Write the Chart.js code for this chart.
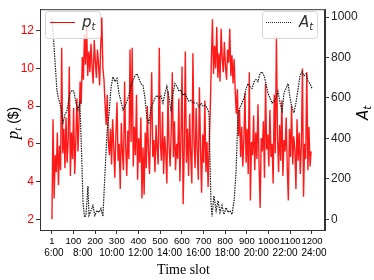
<!DOCTYPE html>
<html>
<head>
<meta charset="utf-8">
<script src="https://cdn.jsdelivr.net/npm/chart.js@4"></script>
<style>
  body { margin: 0; background: #fff; }
  canvas { display: block; }
</style>
</head>
<body>
<canvas id="chart" width="374" height="280"></canvas>
<script>
// price p_t, one value every 5 time slots (slot 1, 6, 11, ...)
const pStep = 5;
const pVals = [
  2.0, 7.3, 3.1, 5.4, 4.5, 6.6, 3.8, 5.9, 4.6, 11.1, 5.5, 6.8, 4.7, 7.4, 5.0, 6.2, 10.1, 4.3, 6.6, 5.2,
  7.9, 4.4, 6.1, 8.4, 5.6, 7.2, 9.3, 8.1,
  10.6, 9.4, 11.8, 10.2, 12.3, 9.6, 10.9, 9.8, 11.3, 10.1, 9.2, 11.5, 10.4, 9.5, 11.0, 10.2, 9.1, 11.2, 12.7, 10.0, 9.4,
  8.1, 7.0, 8.6, 6.2,
  5.4, 6.8, 4.9, 7.3, 5.8, 4.2, 6.5, 8.2, 5.1, 6.0,
  3.6, 7.1, 5.5, 4.6, 9.3, 5.9, 4.3, 6.7, 5.2, 11.0,
  6.1, 11.1, 4.8, 6.9, 5.4, 8.6, 4.1, 6.3, 5.0, 7.4,
  3.1, 5.8, 3.3, 6.6, 4.7, 8.0, 5.6, 4.4, 6.9, 9.8,
  5.3, 6.2, 4.5, 7.0, 5.7, 4.9, 11.1, 6.0, 5.1, 7.7,
  4.4, 6.4, 5.5, 3.9, 8.8, 5.9, 4.8, 6.6, 9.8, 5.3,
  7.2, 4.6, 6.0, 5.2, 8.4, 4.0, 6.3, 10.1, 2.8, 5.7,
  10.9, 5.0, 6.8, 4.3, 7.6, 5.4, 3.9, 10.8, 6.2, 4.7,
  7.9, 5.6, 4.1, 9.0, 5.8, 3.4, 6.5, 5.0, 8.3, 4.5,
  6.1, 3.7, 5.9, 7.8,
  10.4, 12.6, 9.7, 11.2, 10.0, 12.2, 9.5, 10.8, 9.3, 12.1, 10.6, 9.8, 11.4, 10.1, 9.4, 11.0, 10.3, 12.1, 9.6, 10.7,
  9.2, 10.5, 8.8,
  7.6, 8.9, 6.4, 7.8, 5.3, 6.9, 4.8,
  6.2, 8.7, 5.0, 6.8, 4.4, 9.8, 3.0, 6.1, 5.4, 7.5, 4.6, 6.6, 5.2, 8.1, 4.9, 2.6, 6.3, 5.6, 7.2, 4.2,
  9.2, 5.7, 6.5, 4.8, 7.8, 5.3, 6.0, 3.9, 8.6, 5.5, 11.7, 6.4, 4.5, 7.0, 5.1, 8.3, 4.3, 6.2, 5.6, 7.4,
  4.7, 3.0, 6.8, 5.3, 8.0, 4.9, 6.4, 5.7, 3.6, 7.3, 5.1, 6.6, 4.4, 5.9, 10.0, 3.2, 6.0, 5.2, 9.8, 4.6,
  6.9, 4.8, 5.6
];

// A_t, read at these slots
const aSlots = [
  1, 10, 19, 24, 31, 43, 52, 61, 70, 84,
  93, 102, 112, 121, 130, 139, 144, 151, 158, 167,
  172, 181, 190, 199, 209, 218, 227, 236, 246, 255,
  264, 273, 282, 292, 301, 310, 319, 329, 338, 347,
  356, 365, 375, 384, 393, 402, 412, 421, 430, 439,
  448, 458, 467, 476, 485, 495, 504, 513, 522, 531,
  541, 550, 559, 568, 578, 587, 596, 605, 615, 624,
  633, 642, 651, 661, 670, 679, 688, 698, 707, 716,
  725, 734, 739, 748, 758, 767, 776, 785, 794, 804,
  813, 822, 831, 841, 850, 859, 868, 877, 887, 896,
  905, 914, 924, 933, 942, 951, 960, 970, 979, 988,
  997, 1007, 1016, 1025, 1034, 1043, 1053, 1062, 1071, 1080,
  1090, 1099, 1108, 1117, 1126, 1136, 1145, 1154, 1163, 1173,
  1182, 1191, 1200
];
const aVals = [
  995, 865, 720, 638, 599, 551, 478, 517, 536, 623,
  638, 633, 575, 541, 575, 285, 92, 10, 19, 164,
  19, 43, 68, 19, 43, 34, 53, 14, 237, 430,
  517, 647, 705, 681, 696, 623, 584, 541, 560, 584,
  613, 662, 686, 710, 720, 696, 671, 662, 599, 502,
  478, 551, 575, 599, 613, 599, 609, 575, 623, 657,
  599, 541, 623, 671, 657, 633, 638, 613, 623, 599,
  584, 589, 575, 575, 575, 555, 575, 560, 565, 551,
  527, 92, 14, 116, 43, 92, 34, 68, 24, 58,
  34, 43, 24, 92, 237, 527, 551, 575, 599, 647,
  671, 657, 647, 681, 691, 681, 720, 729, 710, 671,
  623, 599, 575, 584, 599, 633, 575, 536, 623, 647,
  671, 599, 551, 527, 575, 647, 710, 729, 710, 720,
  681, 671, 647
];

const xTicks = [1, 100, 200, 300, 400, 500, 600, 700, 800, 900, 1000, 1100, 1200];
const timeLabels = ['6:00', '8:00', '10:00', '12:00', '14:00', '16:00', '18:00', '20:00', '22:00', '24:00'];
const leftTicks = [2, 4, 6, 8, 10, 12];
const rightTicks = [0, 200, 400, 600, 800, 1000];

const pData = pVals.map((v, i) => ({ x: 1 + pStep * i, y: v }));
const aData = aSlots.map((s, i) => ({ x: s, y: aVals[i] }));

const axisColor = '#333';
const sans = '"Liberation Sans", Arial, sans-serif';

function setTicks(list) {
  return scale => { scale.ticks = list.map(v => ({ value: v })); };
}

// text with a subscript, returns width
function subText(ctx, x, y, main, sub, mainFont, subFont, drop, draw) {
  ctx.font = mainFont;
  const w1 = ctx.measureText(main).width;
  if (draw) ctx.fillText(main, x, y);
  ctx.font = subFont;
  const w2 = ctx.measureText(sub).width;
  if (draw) ctx.fillText(sub, x + w1, y + drop);
  return w1 + w2;
}

function legendBox(ctx, x, y, w, h) {
  ctx.save();
  ctx.beginPath();
  ctx.roundRect(x + 0.5, y + 0.5, w, h, 3);
  ctx.fillStyle = 'rgba(255,255,255,0.8)';
  ctx.fill();
  ctx.strokeStyle = '#d6d6d6';
  ctx.lineWidth = 1;
  ctx.stroke();
  ctx.restore();
}

const extras = {
  id: 'extras',
  afterDraw(chart) {
    const { ctx, chartArea: a } = chart;
    const xs = chart.scales.x;
    ctx.save();

    // frame top
    ctx.strokeStyle = axisColor;
    ctx.lineWidth = 1;
    ctx.strokeRect(a.left + 0.5, a.top + 0.5, a.right - a.left - 1, a.bottom - a.top);

    // legends
    ctx.textBaseline = 'alphabetic';
    ctx.textAlign = 'left';
    legendBox(ctx, 45, 11, 55, 27);
    ctx.strokeStyle = 'red';
    ctx.beginPath();
    ctx.moveTo(50, 22.5);
    ctx.lineTo(75, 22.5);
    ctx.stroke();
    ctx.fillStyle = '#333';
    subText(ctx, 82, 27, 'p', 't', 'italic 15px "DejaVu Sans"', 'italic 10px "DejaVu Sans"', 3, true);

    legendBox(ctx, 262, 11, 55, 27);
    ctx.strokeStyle = '#222';
    ctx.setLineDash([1, 1]);
    ctx.beginPath();
    ctx.moveTo(266, 22.5);
    ctx.lineTo(291, 22.5);
    ctx.stroke();
    ctx.setLineDash([]);
    subText(ctx, 299, 27, 'A', 't', 'italic 15px "DejaVu Sans"', 'italic 10px "DejaVu Sans"', 3, true);

    // time of day row under the slot numbers
    ctx.fillStyle = '#000';
    ctx.font = '10px ' + sans;
    ctx.textAlign = 'center';
    timeLabels.forEach((t, i) => {
      const slot = 1 + (1199 / (timeLabels.length - 1)) * i;
      ctx.fillText(t, xs.getPixelForValue(slot) + 2, 256);
    });

    // x title
    ctx.font = '14px "Liberation Serif", "Times New Roman", serif';
    ctx.fillText('Time slot', (a.left + a.right) / 2 + 1, 274);

    // left title
    ctx.save();
    ctx.translate(18, 123);
    ctx.rotate(-Math.PI / 2);
    ctx.textAlign = 'left';
    const pFont = 'italic 17px "Liberation Serif", serif';
    const tFont = 'italic 11px "Liberation Serif", serif';
    const rest = ' ($)';
    const restFont = '14px ' + sans;
    ctx.font = restFont;
    const wRest = ctx.measureText(rest).width;
    const wSub = subText(ctx, 0, 0, 'p', 't', pFont, tFont, 3, false);
    const x0 = -(wSub + wRest) / 2;
    subText(ctx, x0, 0, 'p', 't', pFont, tFont, 3, true);
    ctx.font = restFont;
    ctx.fillText(rest, x0 + wSub, 0);
    ctx.restore();

    // right title
    ctx.save();
    ctx.translate(368, 113);
    ctx.rotate(-Math.PI / 2);
    ctx.textAlign = 'left';
    const aw = subText(ctx, 0, 0, 'A', 't', 'italic 15px "DejaVu Sans"', 'italic 10px "DejaVu Sans"', 3, false);
    subText(ctx, -aw / 2, 0, 'A', 't', 'italic 15px "DejaVu Sans"', 'italic 10px "DejaVu Sans"', 3, true);
    ctx.restore();

    ctx.restore();
  }
};

new Chart(document.getElementById('chart'), {
  type: 'line',
  data: {
    datasets: [
      {
        label: 'A_t',
        data: aData,
        yAxisID: 'y1',
        borderColor: '#1a1a1a',
        borderWidth: 1.2,
        borderDash: [1.5, 1],
        pointRadius: 0,
        tension: 0,
        order: 0
      },
      {
        label: 'p_t',
        data: pData,
        yAxisID: 'y',
        borderColor: 'rgba(255,0,0,0.9)',
        borderWidth: 1.4,
        pointRadius: 0,
        tension: 0,
        order: 1
      }
    ]
  },
  options: {
    responsive: false,
    animation: false,
    devicePixelRatio: 1,
    layout: { padding: { top: 4 } },
    plugins: { legend: { display: false }, tooltip: { enabled: false } },
    scales: {
      x: {
        type: 'linear',
        min: -54,
        max: 1260,
        afterBuildTicks: setTicks(xTicks),
        afterFit: s => { s.height = 50; },
        border: { color: axisColor },
        grid: { drawOnChartArea: false, color: axisColor, tickLength: 4 },
        ticks: {
          autoSkip: false,
          maxRotation: 0,
          padding: 2,
          color: '#000',
          font: { size: 9.5, family: sans },
          callback: v => String(v)
        }
      },
      y: {
        position: 'left',
        min: 1.43,
        max: 13.14,
        afterBuildTicks: setTicks(leftTicks),
        afterFit: s => { s.width = 40; },
        border: { color: axisColor },
        grid: { drawOnChartArea: false, color: axisColor, tickLength: 4 },
        ticks: { padding: 2, color: '#ff0000', font: { size: 12, family: sans }, callback: v => String(v) }
      },
      y1: {
        position: 'right',
        min: -53,
        max: 1039,
        afterBuildTicks: setTicks(rightTicks),
        afterFit: s => { s.width = 49; },
        border: { color: axisColor },
        grid: { drawOnChartArea: false, color: axisColor, tickLength: 4 },
        ticks: { padding: 2, color: '#222', font: { size: 12, family: sans }, callback: v => String(v) }
      }
    }
  },
  plugins: [extras]
});
</script>
</body>
</html>
